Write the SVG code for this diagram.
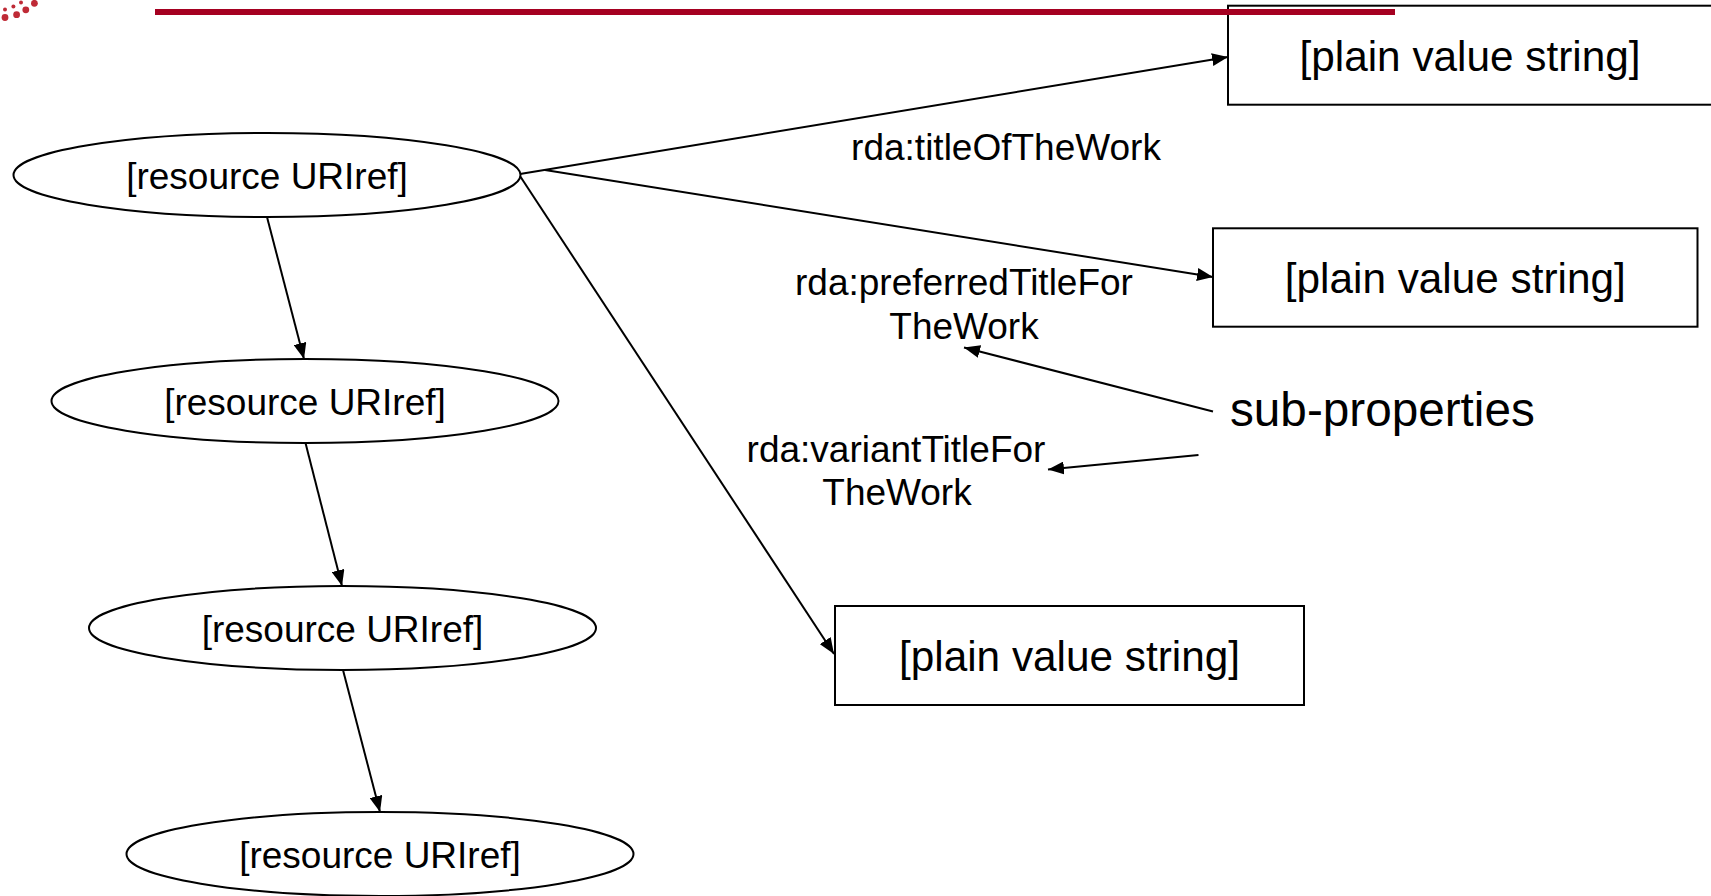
<svg xmlns="http://www.w3.org/2000/svg" width="1711" height="896" viewBox="0 0 1711 896">
<style>
.node{fill:#fff;stroke:#000;stroke-width:2}
.t{font-family:"Liberation Sans",Arial,sans-serif;fill:#000;text-anchor:middle}
.n{font-size:37px}
.b{font-size:42.3px}
.l{font-size:37px}
.edge{stroke:#000;stroke-width:2;fill:none;marker-end:url(#ah)}
.dot{fill:#bf2a36}
</style>
<defs>
<marker id="ah" markerUnits="userSpaceOnUse" markerWidth="16" markerHeight="13" refX="16" refY="6.5" orient="auto">
<path d="M0,0 L16,6.5 L0,13 z" fill="#000"/>
</marker>
</defs>
<rect width="1711" height="896" fill="#fff"/>
<g id="logo">
<circle class="dot" cx="5" cy="9.5" r="2"/>
<circle class="dot" cx="13.4" cy="6.5" r="2"/>
<circle class="dot" cx="21" cy="2.5" r="2"/>
<circle class="dot" cx="34.4" cy="3.3" r="3.4"/>
<circle class="dot" cx="25.8" cy="9.8" r="3.4"/>
<circle class="dot" cx="16.6" cy="14.7" r="3.4"/>
<circle class="dot" cx="5" cy="17.5" r="3.4"/>
</g>
<g id="connectors">
<line class="edge" x1="520" y1="174" x2="1228" y2="57"/>
<line class="edge" x1="545" y1="170" x2="1213" y2="277"/>
<line class="edge" x1="520" y1="176" x2="834" y2="654"/>
<line class="edge" x1="267" y1="217" x2="304" y2="359"/>
<line class="edge" x1="305.5" y1="443" x2="342" y2="586"/>
<line class="edge" x1="343" y1="670" x2="380" y2="812"/>
<line class="edge" x1="1213" y1="411.5" x2="964" y2="347.5"/>
<line class="edge" x1="1198.5" y1="455" x2="1048" y2="469.5"/>
</g>
<g id="r1"><ellipse class="node" cx="267" cy="175" rx="253.5" ry="42"/><text class="t n" x="267" y="189">[resource URIref]</text></g>
<g id="r2"><ellipse class="node" cx="305" cy="401" rx="253.5" ry="42"/><text class="t n" x="305" y="415">[resource URIref]</text></g>
<g id="r3"><ellipse class="node" cx="342.5" cy="628" rx="253.5" ry="42"/><text class="t n" x="342.5" y="642">[resource URIref]</text></g>
<g id="r4"><ellipse class="node" cx="380" cy="854" rx="253.5" ry="42"/><text class="t n" x="380" y="868">[resource URIref]</text></g>
<g id="v1"><rect class="node" x="1228" y="5.7" width="490" height="99"/><text class="t b" x="1470" y="70.5">[plain value string]</text></g>
<g id="v2"><rect class="node" x="1213" y="228.3" width="484.5" height="98.4"/><text class="t b" x="1455.3" y="292.7">[plain value string]</text></g>
<g id="v3"><rect class="node" x="835" y="606" width="469" height="99"/><text class="t b" x="1069.5" y="671">[plain value string]</text></g>
<g id="labels">
<text class="t l" x="1006" y="160">rda:titleOfTheWork</text>
<text class="t l" x="964" y="295">rda:preferredTitleFor</text>
<text class="t l" x="964" y="339">TheWork</text>
<text class="t l" x="896" y="461.5">rda:variantTitleFor</text>
<text class="t l" x="897" y="505">TheWork</text>
</g>
<g id="subprops"><text x="1230" y="425.5" font-family="Liberation Sans, Arial, sans-serif" font-size="47.7" fill="#000">sub-properties</text></g>
<rect id="headerline" x="155" y="9" width="1240" height="6" fill="#a50021"/>
</svg>
